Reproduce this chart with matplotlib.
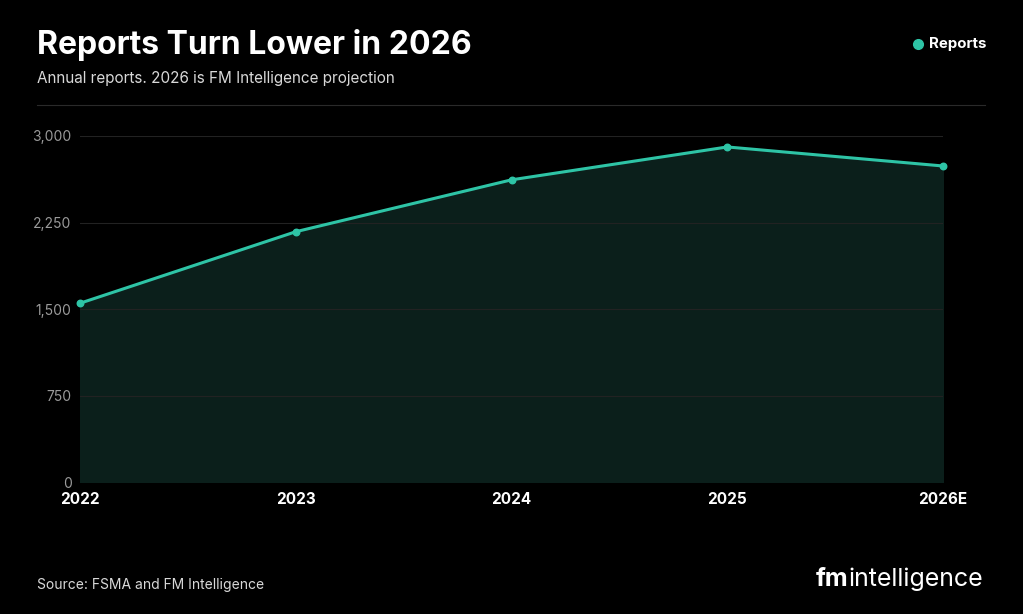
import matplotlib
matplotlib.use("Agg")
import matplotlib.pyplot as plt
from matplotlib.lines import Line2D

years = ["2022", "2023", "2024", "2025", "2026E"]
reports = [1550, 2170, 2620, 2905, 2740]
yticks = [0, 750, 1500, 2250, 3000]
ytick_labels = ["0", "750", "1,500", "2,250", "3,000"]

teal = "#2ec4a6"
plt.rcParams['font.family'] = ['Inter', 'DejaVu Sans']

fig = plt.figure(figsize=(10.23, 6.14), dpi=100, facecolor="black")
ax = fig.add_axes([80/1023, 1-482/614, (943-80)/1023, 346/614])
ax.set_facecolor("black")

x = list(range(len(years)))
ax.fill_between(x, reports, 0, color="#0b1f1b", zorder=1)
ax.plot(x, reports, color=teal, lw=2.2, zorder=3, clip_on=False)
ax.scatter(x, reports, color=teal, s=22, zorder=4, clip_on=False)

ax.set_xlim(0, len(years) - 1)
ax.set_ylim(0, 3000)
ax.set_yticks(yticks)
ax.set_yticklabels(ytick_labels, color="#9a9a9a", fontsize=10)
ax.set_xticks(x)
ax.set_xticklabels(years, color="white", fontsize=11, fontweight="bold")
ax.tick_params(length=0, pad=7)
ax.tick_params(axis="y", pad=6)
for y in yticks[1:]:
    ax.axhline(y, color="#222222", lw=0.8, zorder=2)
for s in ax.spines.values():
    s.set_visible(False)

fig.text(37/1023, 1-45/614, "Reports Turn Lower in 2026", color="white",
         fontsize=23, fontweight="bold", va="center")
fig.text(37/1023, 1-79/614, "Annual reports. 2026 is FM Intelligence projection",
         color="#d8d8d8", fontsize=11, va="center")
fig.add_artist(Line2D([37/1023, 985/1023], [1-105/614]*2, color="#2a2a2a", lw=0.8))

fig.add_artist(Line2D([918/1023], [1-44/614], marker="o", color=teal, markersize=7))
fig.text(929/1023, 1-44/614, "Reports", color="white", fontsize=10.8,
         fontweight="bold", va="center")

fig.text(37/1023, 1-585/614, "Source: FSMA and FM Intelligence", color="#d8d8d8",
         fontsize=10, va="center")
fig.text(848/1023, 1-579/614, "fm", color="white", fontsize=18, fontweight="bold",
         va="center", ha="right")
fig.text(849/1023, 1-579/614, "intelligence", color="white", fontsize=18,
         va="center", ha="left")

fig.savefig("out.png", dpi=100, facecolor="black")
